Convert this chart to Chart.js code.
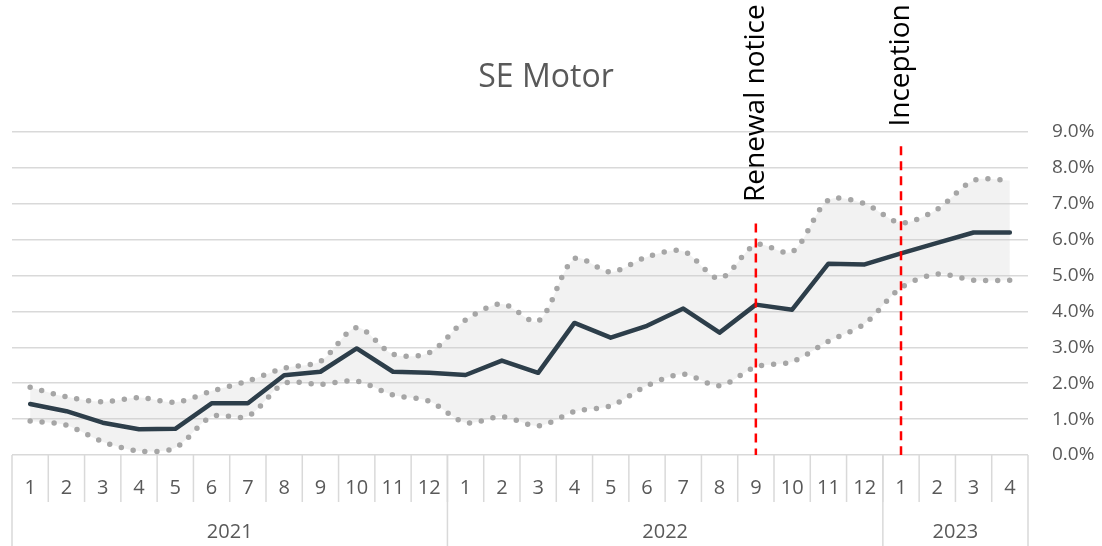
<!DOCTYPE html>
<html>
<head>
<meta charset="utf-8">
<script src="https://cdn.jsdelivr.net/npm/chart.js@4/dist/chart.umd.min.js"></script>
<style>
  html, body { margin: 0; padding: 0; background: #fff; }
  canvas { display: block; }
</style>
</head>
<body>
<canvas id="chart" width="1102" height="546"></canvas>
<script>
// months on the axis, grouped by year
const months = ["1","2","3","4","5","6","7","8","9","10","11","12",
                "1","2","3","4","5","6","7","8","9","10","11","12",
                "1","2","3","4"];
const years = ["2021", "2022", "2023"];
const yearCounts = [12, 12, 4];

// values in %
const mainLine = [1.42, 1.22, 0.90, 0.72, 0.73, 1.44, 1.44, 2.22, 2.32, 2.97, 2.32, 2.29,
                  2.23, 2.63, 2.29, 3.68, 3.27, 3.60, 4.08, 3.41, 4.19, 4.05, 5.33, 5.31,
                  5.62, 5.91, 6.20, 6.20];
const upperLine = [1.89, 1.62, 1.48, 1.60, 1.47, 1.78, 2.06, 2.42, 2.61, 3.55, 2.81, 2.85,
                   3.76, 4.21, 3.73, 5.47, 5.10, 5.52, 5.68, 4.92, 5.86, 5.66, 7.10, 7.00,
                   6.47, 6.85, 7.65, 7.65];
const lowerLine = [0.95, 0.83, 0.37, 0.11, 0.20, 1.07, 1.08, 1.99, 1.97, 2.06, 1.67, 1.50,
                   0.90, 1.07, 0.81, 1.21, 1.37, 1.93, 2.25, 1.93, 2.46, 2.60, 3.17, 3.66,
                   4.66, 5.04, 4.87, 4.87];

// event markers (category index)
const markerIndex = [20, 24];
const markerLabels = ["Renewal notice", "Inception"];

const FONT = "'Open Sans', 'Liberation Sans', sans-serif";
const GREY_TEXT = "#595959";
const GRID = "#d9d9d9";

// multi-level category axis + title + red markers
const decorations = {
  id: "decorations",
  afterDraw(chart) {
    const { ctx, chartArea, scales } = chart;
    const x = scales.x, y = scales.y;
    const bottom = chartArea.bottom;
    const step = (chartArea.right - chartArea.left) / months.length;
    ctx.save();

    // title
    ctx.fillStyle = GREY_TEXT;
    ctx.font = "32px " + FONT;
    ctx.textAlign = "center";
    ctx.textBaseline = "alphabetic";
    ctx.fillText("SE Motor", 546, 87);

    // month separators + labels
    ctx.strokeStyle = GRID;
    ctx.lineWidth = 1.5;
    ctx.font = "20px " + FONT;
    ctx.textBaseline = "middle";
    months.forEach((m, i) => {
      const cx = x.getPixelForValue(i);
      ctx.fillText(m, cx, bottom + 33);
      const sx = cx - step / 2;
      if (i > 0) {
        ctx.beginPath();
        ctx.moveTo(sx, bottom);
        ctx.lineTo(sx, bottom + 47);
        ctx.stroke();
      }
    });

    // year separators + labels
    let start = 0;
    const edges = [chartArea.left];
    years.forEach((yr, k) => {
      const end = start + yearCounts[k];
      const left = x.getPixelForValue(start) - step / 2;
      const right = x.getPixelForValue(end - 1) + step / 2;
      edges.push(right);
      ctx.fillText(yr, (left + right) / 2, bottom + 77);
      start = end;
    });
    edges.forEach((ex) => {
      ctx.beginPath();
      ctx.moveTo(ex, bottom);
      ctx.lineTo(ex, chart.height);
      ctx.stroke();
    });

    // red dashed markers
    const lineTops = [6.45, 8.6];
    const labelStarts = [7.05, 9.15];
    markerIndex.forEach((idx, k) => {
      const mx = x.getPixelForValue(idx);
      ctx.strokeStyle = "#ff0000";
      ctx.lineWidth = 2.5;
      ctx.setLineDash([9, 6]);
      ctx.beginPath();
      ctx.moveTo(mx, y.getPixelForValue(lineTops[k]));
      ctx.lineTo(mx, bottom);
      ctx.stroke();
      ctx.setLineDash([]);

      ctx.save();
      ctx.translate(mx, y.getPixelForValue(labelStarts[k]));
      ctx.rotate(-Math.PI / 2);
      ctx.fillStyle = "#000";
      ctx.font = "28px " + FONT;
      ctx.textAlign = "left";
      ctx.textBaseline = "middle";
      ctx.fillText(markerLabels[k], 0, 0);
      ctx.restore();
    });

    ctx.restore();
  }
};

new Chart(document.getElementById("chart"), {
  type: "line",
  data: {
    labels: months,
    datasets: [
      {
        label: "Main",
        data: mainLine,
        borderColor: "#2d3e4a",
        borderWidth: 4.5,
        borderJoinStyle: "round",
        borderCapStyle: "round",
        pointRadius: 0,
        tension: 0,
        fill: false
      },
      {
        label: "Upper",
        data: upperLine,
        borderColor: "#a6a6a6",
        borderWidth: 5.5,
        borderDash: [0, 12],
        borderCapStyle: "round",
        pointRadius: 0,
        tension: 0.3,
        fill: "+1",
        backgroundColor: "rgba(200,200,200,0.24)"
      },
      {
        label: "Lower",
        data: lowerLine,
        borderColor: "#a6a6a6",
        borderWidth: 5.5,
        borderDash: [0, 12],
        borderCapStyle: "round",
        pointRadius: 0,
        tension: 0.3,
        fill: false
      }
    ]
  },
  options: {
    responsive: false,
    animation: false,
    devicePixelRatio: 1,
    layout: { padding: { left: 12, top: 132, bottom: 91, right: 0 } },
    plugins: {
      legend: { display: false },
      tooltip: { enabled: false },
      title: { display: false },
      filler: { drawTime: "beforeDatasetsDraw" }
    },
    scales: {
      x: { display: false, offset: true },
      y: {
        position: "right",
        min: 0,
        max: 9,
        ticks: {
          stepSize: 1,
          padding: 24,
          color: GREY_TEXT,
          font: { family: FONT, size: 19 },
          callback: (v) => v.toFixed(1) + "%"
        },
        grid: { color: GRID, lineWidth: 1.5, drawTicks: false },
        border: { display: false },
        afterFit: (scale) => { scale.width = 74; }
      }
    }
  },
  plugins: [decorations]
});
</script>
</body>
</html>
